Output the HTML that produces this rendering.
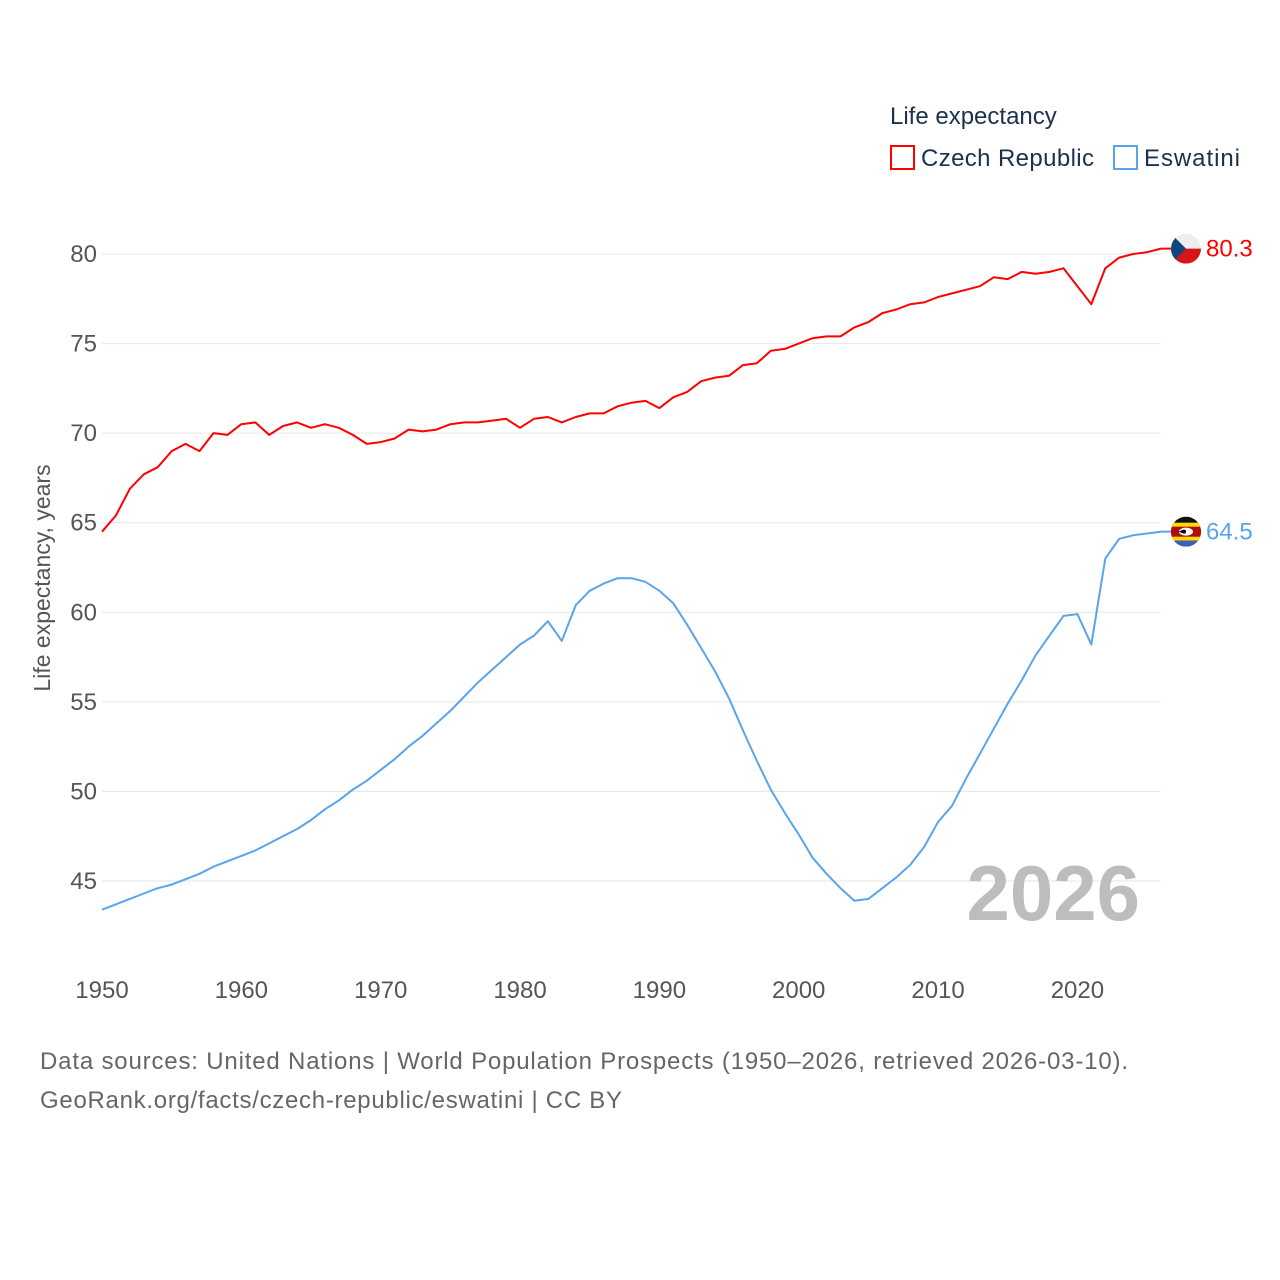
<!DOCTYPE html>
<html><head><meta charset="utf-8"><style>
html,body{margin:0;padding:0;background:#fff}
svg{display:block;font-family:"Liberation Sans",sans-serif}
</style></head><body>
<svg id="chart" width="1280" height="1280" viewBox="0 0 1280 1280">
<g id="grid"></g>
<g id="yticks"></g>
<g id="xticks"></g>
<text x="50" y="578" transform="rotate(-90 50 578)" text-anchor="middle" font-size="23" fill="#555">Life expectancy, years</text>
<text x="1140" y="920" text-anchor="end" font-size="78" font-weight="bold" fill="#bdbdbd">2026</text>
<g id="series"></g>
<g>
<text x="890" y="124" font-size="24" fill="#1c3050">Life expectancy</text>
<g>
<rect x="891" y="146" width="23" height="23" fill="none" stroke="#ff0000" stroke-width="2"/>
<text x="921" y="166" font-size="24" fill="#1c3050" textLength="173">Czech Republic</text></g>
<g>
<rect x="1114" y="146" width="23" height="23" fill="none" stroke="#5aa4ec" stroke-width="2"/>
<text x="1144" y="166" font-size="24" fill="#1c3050" textLength="96">Eswatini</text></g>
</g>
<text x="40" y="1069" font-size="24" fill="#666" textLength="1088">Data sources: United Nations | World Population Prospects (1950–2026, retrieved 2026-03-10).</text>
<text x="40" y="1108" font-size="24" fill="#666" textLength="582">GeoRank.org/facts/czech-republic/eswatini | CC BY</text>
</svg>
<script>
const years = [];
for (let y = 1950; y <= 2026; y++) years.push(y);
const czech = [64.5,65.4,66.9,67.7,68.1,69.0,69.4,69.0,70.0,69.9,70.5,70.6,69.9,70.4,70.6,70.3,70.5,70.3,69.9,69.4,69.5,69.7,70.2,70.1,70.2,70.5,70.6,70.6,70.7,70.8,70.3,70.8,70.9,70.6,70.9,71.1,71.1,71.5,71.7,71.8,71.4,72.0,72.3,72.9,73.1,73.2,73.8,73.9,74.6,74.7,75.0,75.3,75.4,75.4,75.9,76.2,76.7,76.9,77.2,77.3,77.6,77.8,78.0,78.2,78.7,78.6,79.0,78.9,79.0,79.2,78.2,77.2,79.2,79.8,80.0,80.1,80.3];
const eswatini = [43.4,43.7,44.0,44.3,44.6,44.8,45.1,45.4,45.8,46.1,46.4,46.7,47.1,47.5,47.9,48.4,49.0,49.5,50.1,50.6,51.2,51.8,52.5,53.1,53.8,54.5,55.3,56.1,56.8,57.5,58.2,58.7,59.5,58.4,60.4,61.2,61.6,61.9,61.9,61.7,61.2,60.5,59.3,58.0,56.7,55.2,53.4,51.7,50.1,48.8,47.6,46.3,45.4,44.6,43.9,44.0,44.6,45.2,45.9,46.9,48.3,49.2,50.7,52.1,53.5,54.9,56.2,57.6,58.7,59.8,59.9,58.2,63.0,64.1,64.3,64.4,64.5];
const yTicks = [45,50,55,60,65,70,75,80];
const xTicks = [1950,1960,1970,1980,1990,2000,2010,2020];
const czechLabel = "80.3";
const eswLabel = "64.5";

const NS = "http://www.w3.org/2000/svg";
const X0 = 102, X1 = 1161;
const xScale = v => X0 + (v - 1950) / 76 * (X1 - X0);
const yScale = v => 254 + (80 - v) * (881 - 254) / 35;
function mk(tag, attrs, parent, text) {
  const e = document.createElementNS(NS, tag);
  for (const k in attrs) e.setAttribute(k, attrs[k]);
  if (text !== undefined) e.textContent = text;
  parent.appendChild(e);
  return e;
}
const grid = document.getElementById('grid');
const yg = document.getElementById('yticks');
const xg = document.getElementById('xticks');
const sg = document.getElementById('series');
yTicks.forEach(t => {
  const l = mk('line', {x1: X0, x2: X1, y1: yScale(t), y2: yScale(t), stroke: '#e6e6e6', 'stroke-width': 1}, grid);
  
  
  const tx = mk('text', {x: 97, y: yScale(t) + 8, 'text-anchor': 'end', 'font-size': 24, fill: '#555'}, yg, String(t));
  
  
});
xTicks.forEach(t => {
  const tx = mk('text', {x: xScale(t), y: 998, 'text-anchor': 'middle', 'font-size': 24, fill: '#555'}, xg, String(t));
  
  
});
function line(vals, color, name) {
  const d = vals.map((v, i) => (i ? 'L' : 'M') + xScale(years[i]).toFixed(1) + ' ' + yScale(v).toFixed(1)).join(' ');
  const p = mk('path', {d: d, fill: 'none', stroke: color, 'stroke-width': 2, 'stroke-linejoin': 'round'}, sg);
  
  
}
line(czech, '#ff0000', 'czech-republic-line');
line(eswatini, '#5aa4ec', 'eswatini-line');

const cx = 1186;
const cy1 = yScale(czech[czech.length - 1]);
const cz = mk('g', {}, sg);


mk('line', {x1: X1, x2: cx, y1: cy1, y2: cy1, stroke: '#ff0000', 'stroke-width': 2}, cz);
mk('clipPath', {id: 'c1'}, cz);
mk('circle', {cx: cx, cy: cy1, r: 15}, cz.lastChild);
const g1 = mk('g', {'clip-path': 'url(#c1)'}, cz);
mk('rect', {x: cx - 15, y: cy1 - 15, width: 30, height: 15, fill: '#eeeeee'}, g1);
mk('rect', {x: cx - 15, y: cy1, width: 30, height: 15, fill: '#d7141a'}, g1);
mk('polygon', {points: `${cx-15},${cy1-15} ${cx},${cy1} ${cx-15},${cy1+15}`, fill: '#11457e'}, g1);
const t1 = mk('text', {x: 1206, y: cy1 + 8, 'font-size': 24, fill: '#ff0000'}, sg, czechLabel);



const cy2 = yScale(eswatini[eswatini.length - 1]);
const es = mk('g', {}, sg);


mk('line', {x1: X1, x2: cx, y1: cy2, y2: cy2, stroke: '#5aa4ec', 'stroke-width': 2}, es);
mk('clipPath', {id: 'c2'}, es);
mk('circle', {cx: cx, cy: cy2, r: 15}, es.lastChild);
const g2 = mk('g', {'clip-path': 'url(#c2)'}, es);
mk('rect', {x: cx - 15, y: cy2 - 15, width: 30, height: 30, fill: '#111'}, g2);
mk('rect', {x: cx - 15, y: cy2 - 9, width: 30, height: 5, fill: '#ffd900'}, g2);
mk('rect', {x: cx - 15, y: cy2 - 5, width: 30, height: 10, fill: '#b10c0c'}, g2);
mk('rect', {x: cx - 15, y: cy2 + 5, width: 30, height: 4, fill: '#ffd900'}, g2);
mk('rect', {x: cx - 15, y: cy2 + 9, width: 30, height: 6, fill: '#3e5eb9'}, g2);
mk('ellipse', {cx: cx, cy: cy2, rx: 7, ry: 4, fill: '#fff'}, g2);
mk('path', {d: `M${cx-7} ${cy2} Q${cx} ${cy2-4} ${cx} ${cy2} Q${cx} ${cy2+4} ${cx-7} ${cy2}Z`, fill: '#000'}, g2);
const t2 = mk('text', {x: 1206, y: cy2 + 8, 'font-size': 24, fill: '#5aa4ec'}, sg, eswLabel);


</script>
</body></html>
